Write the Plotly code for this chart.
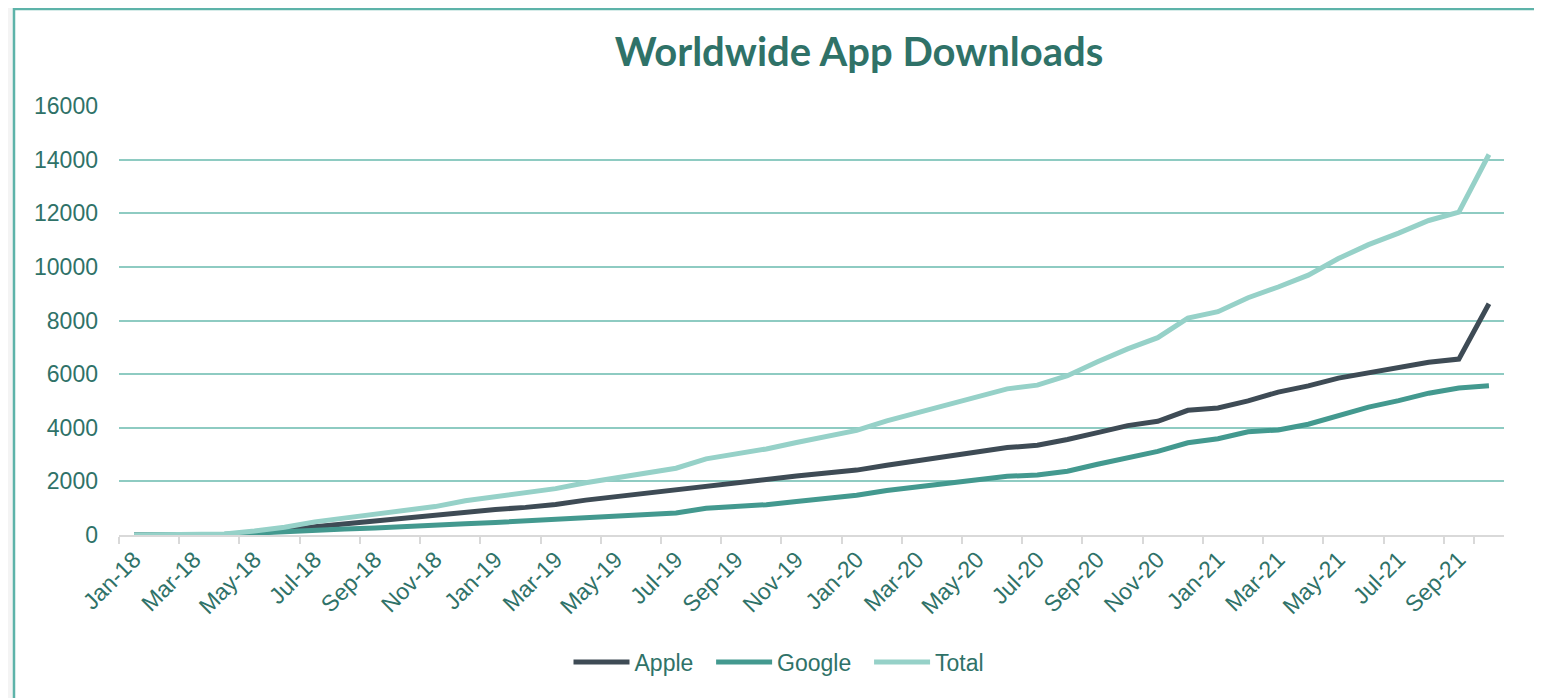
import plotly.graph_objects as go

months = ["Jan", "Feb", "Mar", "Apr", "May", "Jun", "Jul", "Aug", "Sep", "Oct", "Nov", "Dec"]
years = ["18", "19", "20", "21"]
categories = [f"{m}-{y}" for y in years for m in months][:46]  # Jan-18 .. Oct-21

apple = [0, 0, 0, 10, 80, 160, 310, 420, 500, 610, 710, 860,
         950, 1030, 1140, 1300, 1430, 1570, 1670, 1840, 1960, 2080, 2200, 2310,
         2420, 2600, 2760, 2920, 3100, 3260, 3350, 3560, 3820, 4080, 4240, 4650,
         4740, 5000, 5330, 5560, 5850, 6060, 6250, 6440, 6560, 8625]
google = [0, 0, 0, 30, 70, 130, 180, 220, 260, 300, 350, 420,
          470, 530, 590, 650, 710, 770, 820, 1000, 1060, 1130, 1250, 1360,
          1480, 1660, 1800, 1940, 2080, 2190, 2240, 2380, 2640, 2860, 3120, 3440,
          3590, 3850, 3920, 4130, 4460, 4770, 5010, 5290, 5480, 5565]
total = [0, 0, 0, 40, 150, 290, 490, 640, 760, 910, 1060, 1280,
         1420, 1560, 1730, 1950, 2140, 2340, 2490, 2840, 3020, 3210, 3450, 3670,
         3900, 4260, 4560, 4860, 5180, 5450, 5590, 5940, 6460, 6940, 7360, 8090,
         8330, 8850, 9250, 9690, 10310, 10830, 11260, 11730, 12040, 14190]

tick_labels = categories[::2]
y_ticks = [0, 2000, 4000, 6000, 8000, 10000, 12000, 14000, 16000]

TEXT = "#2f7268"
NBSP = "\u00a0"
series = [("Apple", apple, "#3e4b55"), ("Google", google, "#43998f"), ("Total", total, "#96d1c8")]

# page is offset by the 8px body margin; work in page pixel coordinates
OFF = 8
W, H = 1542 - OFF, 698 - OFF
L, R, T, B = 119, 1504, 106, 535  # plot area in page pixels
pw, ph = R - L, B - T


def px_x(x):
    return (x - L) / pw


def px_y(y):
    return (B - y) / ph


fig = go.Figure()
for name, vals, col in series:
    fig.add_trace(go.Scatter(x=categories, y=vals, name=name + NBSP * 2, mode="lines",
                             line=dict(color=col, width=5, shape="linear"),
                             hovertemplate=name + ": %{y}<extra>%{x}</extra>"))

fig.add_shape(type="rect", xref="paper", yref="paper",
              x0=px_x(14), x1=px_x(1536), y0=px_y(730), y1=px_y(9),
              line=dict(color="#5db3a9", width=2.5), fillcolor="white", layer="below")

fig.update_layout(
    width=W, height=H,
    margin=dict(l=L - OFF, r=(W + OFF) - R, t=T - OFF, b=(H + OFF) - B, pad=0),
    paper_bgcolor="#f4f4f4",
    plot_bgcolor="rgba(0,0,0,0)",
    font=dict(family="Liberation Sans, Arial, sans-serif", size=23, color=TEXT),
    title=dict(text="<b>Worldwide App Downloads</b>", x=px_x(859), xref="paper", xanchor="center",
               y=1 - (52 - OFF) / H, yref="container", yanchor="middle",
               font=dict(family="Lato, sans-serif", size=40, color=TEXT)),
    showlegend=True,
    legend=dict(orientation="h", x=px_x(785), xanchor="center", xref="paper",
                y=px_y(662), yanchor="middle", yref="paper",
                font=dict(size=23, color=TEXT), bgcolor="rgba(0,0,0,0)",
                itemwidth=56, traceorder="normal"),
    xaxis=dict(type="category", categoryorder="array", categoryarray=categories,
               tickmode="array", tickvals=tick_labels, ticktext=tick_labels,
               tickangle=-45, tickson="boundaries", ticks="outside", ticklen=7,
               tickcolor="#d9d9d9", tickwidth=2,
               showline=True, linecolor="#d9d9d9", linewidth=2,
               showgrid=False, zeroline=False,
               range=[-0.5, len(categories) - 0.5],
               tickfont=dict(size=23, color=TEXT)),
    yaxis=dict(range=[0, 16000], tickvals=y_ticks, ticktext=[str(v) for v in y_ticks],
               showgrid=True, gridcolor="#8ecbc2", gridwidth=2,
               zeroline=False, showline=False, ticks="",
               ticklabelstandoff=20,
               tickfont=dict(size=23, color=TEXT)),
)

fig.write_html("out.html")
